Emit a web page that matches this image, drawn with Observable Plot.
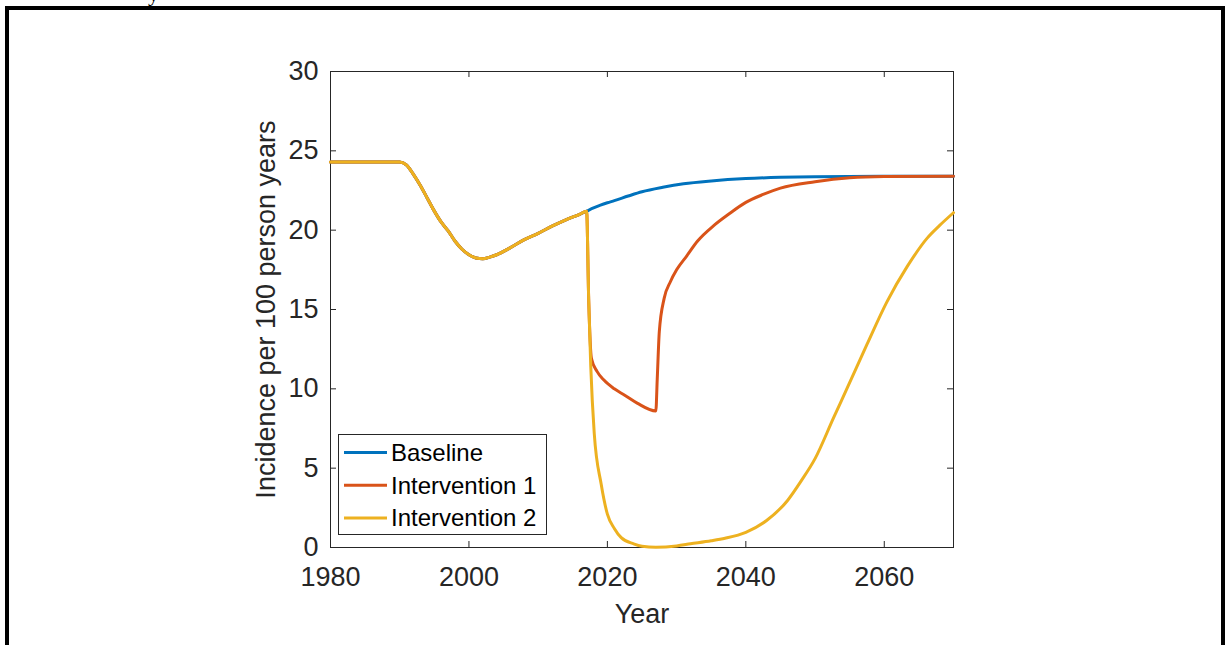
<!DOCTYPE html>
<html>
<head>
<meta charset="utf-8">
<script src="https://cdn.jsdelivr.net/npm/d3@7"></script>
<script src="https://cdn.jsdelivr.net/npm/@observablehq/plot@0.6"></script>
<style>
  html, body { margin: 0; padding: 0; background: #fff; overflow: hidden; }
  #wrap { position: relative; width: 1230px; height: 645px; }
  #border { position: absolute; left: 5px; top: 6px; width: 1212px; height: 700px; border: 4px solid #000; box-sizing: content-box; pointer-events: none; }
  #cut { position: absolute; left: 148px; top: -19px; font: 22px "Liberation Serif", serif; color: #000; }
</style>
</head>
<body>
<div id="wrap">
  <div id="chart"></div>
  <div id="border"></div>
  <div id="cut">y</div>
</div>
<script>
// Shared history (all scenarios identical before 2017)
const historyYears  = [1980, 1990, 1991, 1992, 1993, 1994, 1995, 1996, 1997, 1998, 1999, 2000, 2001, 2002, 2003, 2004, 2006, 2008, 2010, 2012, 2014, 2016, 2017];
const historyValues = [24.3, 24.3, 24.1, 23.5, 22.8, 22.0, 21.2, 20.5, 19.95, 19.3, 18.8, 18.45, 18.25, 18.2, 18.3, 18.45, 18.9, 19.4, 19.8, 20.25, 20.65, 21.0, 21.2];

// Baseline after 2017
const baselineYears  = [2018, 2019, 2020, 2021, 2023, 2025, 2028, 2031, 2035, 2040, 2045, 2050, 2060, 2070];
const baselineValues = [21.4, 21.58, 21.73, 21.86, 22.15, 22.42, 22.7, 22.92, 23.1, 23.25, 23.33, 23.37, 23.4, 23.4];

// Intervention 1 after 2017
const int1Years  = [2017.3, 2017.7, 2018.5, 2019.5, 2021, 2022.5, 2024.3, 2027, 2027.2, 2027.5, 2028.2, 2029.1, 2030, 2031.5, 2033, 2035.4, 2037.5, 2040, 2042.5, 2045, 2050, 2055, 2060, 2070];
const int1Values = [15.6, 11.9, 11.1, 10.55, 10.0, 9.6, 9.1, 8.6, 10.6, 13.6, 15.7, 16.75, 17.5, 18.4, 19.3, 20.3, 21.0, 21.75, 22.25, 22.65, 23.05, 23.3, 23.38, 23.4];

// Intervention 2 after 2017
const int2Years  = [2017.3, 2017.6, 2018.1, 2019.1, 2020, 2021, 2022, 2023.8, 2025, 2027, 2030, 2032, 2035, 2037, 2040, 2043, 2046, 2048, 2050, 2052.7, 2054.7, 2057.5, 2060.4, 2063.3, 2066.2, 2068, 2070];
const int2Values = [15.6, 11.4, 7.2, 4.0, 2.1, 1.2, 0.62, 0.23, 0.08, 0.02, 0.1, 0.23, 0.42, 0.58, 0.95, 1.7, 2.95, 4.2, 5.6, 8.2, 10.1, 12.8, 15.5, 17.7, 19.5, 20.3, 21.1];

const seriesNames  = ["Baseline", "Intervention 1", "Intervention 2"];
const seriesColors = ["#0072BD", "#D95319", "#EDB120"];

const xTicks = [1980, 2000, 2020, 2040, 2060];
const yTicks = [0, 5, 10, 15, 20, 25, 30];

const xLabel = "Year";
const yLabel = "Incidence per 100 person years";

function rows(name, ys, vs) {
  const all = historyYears.map((y, i) => ({series: name, year: y, value: historyValues[i]}));
  return all.concat(ys.map((y, i) => ({series: name, year: y, value: vs[i]})));
}
const baseline = rows(seriesNames[0], baselineYears, baselineValues);
const int1 = rows(seriesNames[1], int1Years, int1Values);
const int2 = rows(seriesNames[2], int2Years, int2Values);

const W = 1230, H = 645;
const mL = 330, mR = 277, mT = 71, mB = 98;
const innerH = H - mT - mB;
const innerW = W - mL - mR;
const ink = "#262626";
const font = "'Liberation Sans', Arial, Helvetica, sans-serif";

const chart = Plot.plot({
  width: W,
  height: H,
  marginLeft: mL,
  marginRight: mR,
  marginTop: mT,
  marginBottom: mB,
  style: {fontFamily: font, fontSize: "27px", color: ink, background: "transparent"},
  x: {domain: [1980, 2070]},
  y: {domain: [0, 30]},
  marks: [
    Plot.frame({stroke: ink, strokeWidth: 1}),
    // inward ticks on all four sides
    Plot.tickX(xTicks, {x: d => d, insetTop: innerH - 6, stroke: ink, strokeWidth: 1}),
    Plot.tickX(xTicks, {x: d => d, insetBottom: innerH - 6, stroke: ink, strokeWidth: 1}),
    Plot.tickY(yTicks, {y: d => d, insetRight: innerW - 6, stroke: ink, strokeWidth: 1}),
    Plot.tickY(yTicks, {y: d => d, insetLeft: innerW - 6, stroke: ink, strokeWidth: 1}),
    Plot.axisX(xTicks, {anchor: "bottom", tickSize: 0, tickPadding: 19, fontSize: 27, label: null, tickFormat: d => String(d), fill: ink}),
    Plot.axisY(yTicks, {anchor: "left", tickSize: 0, tickPadding: 12, fontSize: 27, label: null, tickFormat: d => String(d), fill: ink}),
    Plot.text([xLabel], {text: d => d, frameAnchor: "bottom", dy: 75, fontSize: 27, fill: ink}),
    Plot.text([yLabel], {text: d => d, frameAnchor: "left", textAnchor: "middle", lineAnchor: "middle", dx: -64, rotate: -90, fontSize: 27, fill: ink}),
    Plot.line(baseline, {x: "year", y: "value", stroke: seriesColors[0], strokeWidth: 3, curve: "monotone-x"}),
    Plot.line(int1, {x: "year", y: "value", stroke: seriesColors[1], strokeWidth: 3, curve: "monotone-x"}),
    Plot.line(int2, {x: "year", y: "value", stroke: seriesColors[2], strokeWidth: 3, curve: "monotone-x"})
  ]
});
document.getElementById("chart").appendChild(chart);

// Legend (inside the axes, lower-left)
const svg = d3.select(chart);
const lg = svg.append("g").attr("font-family", font).attr("font-size", 24).attr("text-anchor", "start");
lg.append("rect").attr("x", 338.5).attr("y", 434.5).attr("width", 208).attr("height", 100)
  .attr("fill", "#fff").attr("stroke", ink).attr("stroke-width", 1);
seriesNames.forEach((name, i) => {
  const cy = 452.5 + i * 32.7;
  lg.append("line").attr("x1", 344).attr("x2", 387).attr("y1", cy).attr("y2", cy)
    .attr("stroke", seriesColors[i]).attr("stroke-width", 3);
  lg.append("text").attr("x", 391).attr("y", cy).attr("dy", "0.35em").attr("text-anchor", "start").attr("fill", "#000").text(name);
});
</script>
</body>
</html>
